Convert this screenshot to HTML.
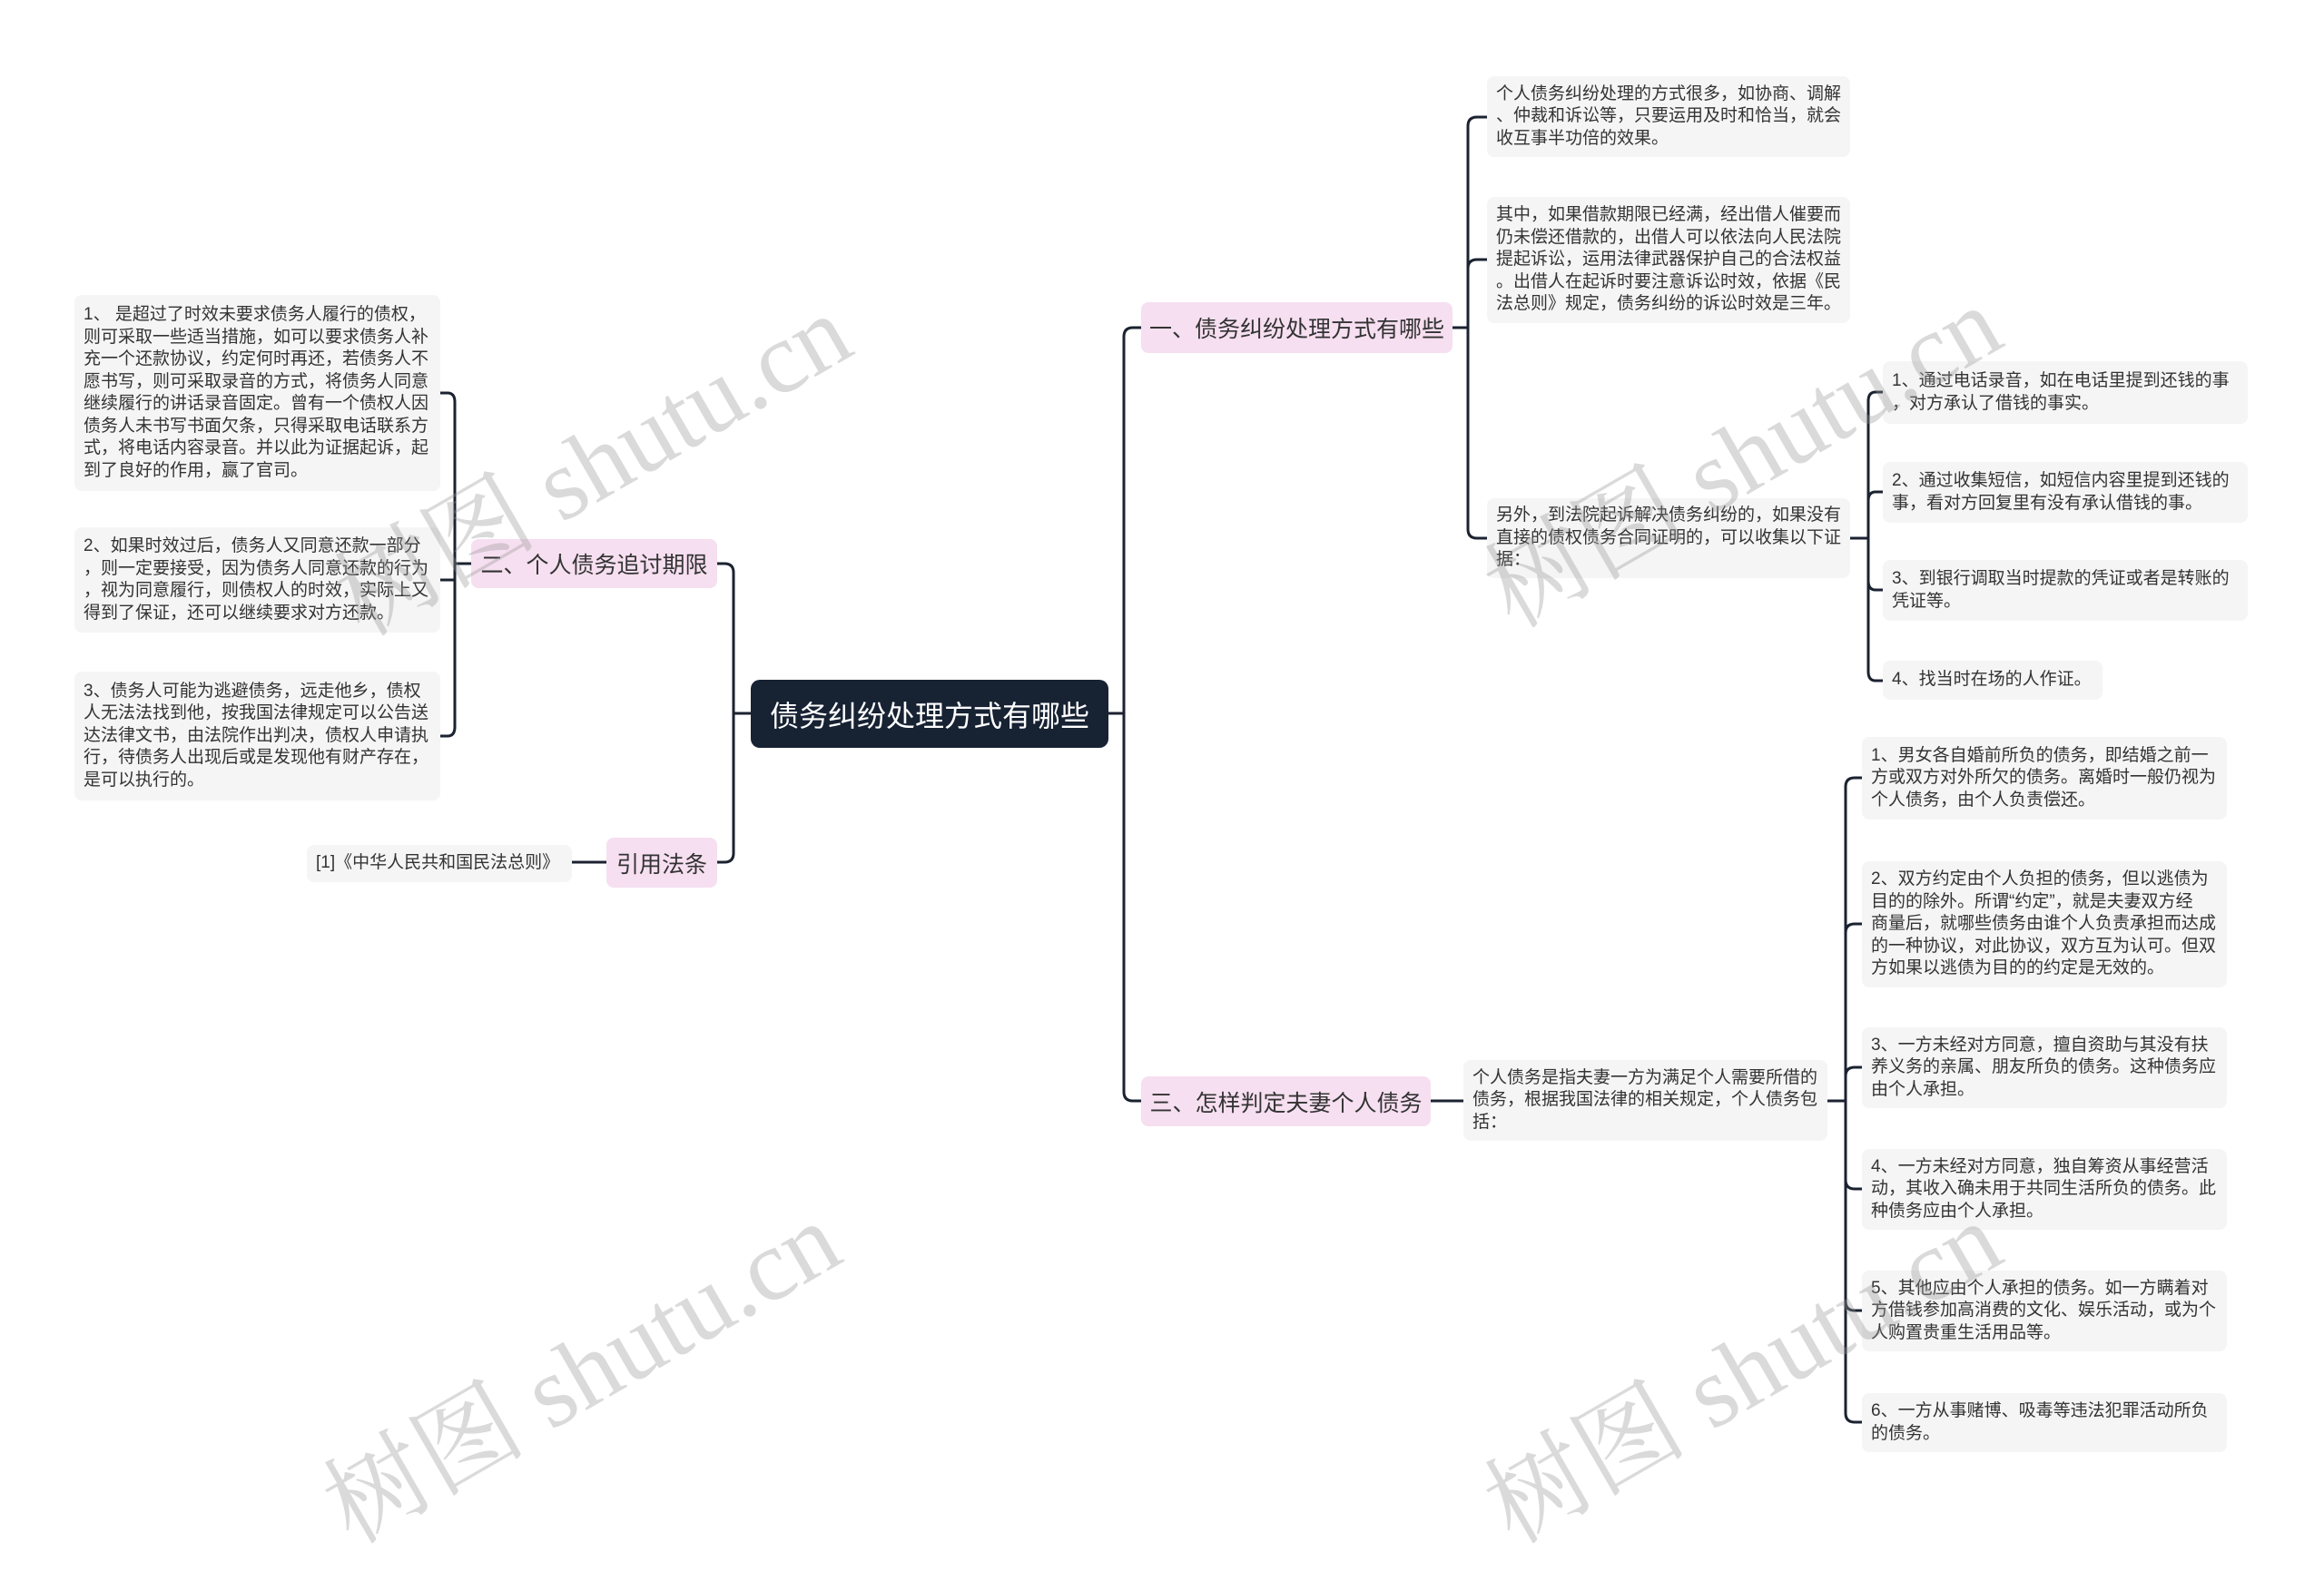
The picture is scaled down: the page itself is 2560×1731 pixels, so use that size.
<!DOCTYPE html>
<html><head><meta charset="utf-8"><style>
html,body{margin:0;padding:0;background:#fff;}
body{width:2560px;height:1684px;position:relative;overflow:hidden;font-family:"Liberation Sans","Noto Sans CJK SC",sans-serif;}
.n{position:absolute;box-sizing:border-box;display:flex;align-items:center;border-radius:8px;}
.leaf{background:#f5f5f5;color:#333;font-size:19px;line-height:24.5px;padding:0 10px;white-space:nowrap;}
.br{background:#f6dff0;color:#333;font-size:25px;justify-content:center;white-space:nowrap;}
.root{background:#172233;color:#fff;font-size:32px;justify-content:center;border-radius:10px;}
.wm{position:absolute;font-family:"Liberation Serif","Noto Serif CJK SC",serif;font-size:112px;color:rgba(150,150,150,0.35);transform:rotate(-30deg);white-space:nowrap;transform-origin:center;}
svg{position:absolute;left:0;top:0;}
</style></head><body>
<svg width="2560" height="1684" fill="none" stroke="#1b2230" stroke-width="3" stroke-linecap="round">
<path d="M1221 786 H1238"/>
<path d="M1238 786 V371 Q1238 361 1248 361 H1257"/>
<path d="M1238 786 V1203 Q1238 1213 1248 1213 H1257"/>
<path d="M827 786 H808"/>
<path d="M808 786 V631 Q808 621 798 621 H790"/>
<path d="M808 786 V940 Q808 950 798 950 H790"/>
<path d="M1600 361 H1617"/>
<path d="M1617 361 V139 Q1617 129 1627 129 H1638"/>
<path d="M1617 361 V296 Q1617 286 1627 286 H1638"/>
<path d="M1617 361 V583 Q1617 593 1627 593 H1638"/>
<path d="M2038 593 H2058"/>
<path d="M2058 593 V442 Q2058 432 2066 432 H2074"/>
<path d="M2058 593 V552 Q2058 542 2066 542 H2074"/>
<path d="M2058 593 V640 Q2058 650 2066 650 H2074"/>
<path d="M2058 593 V740 Q2058 750 2066 750 H2074"/>
<path d="M1576 1213 H1612"/>
<path d="M2013 1213 H2033"/>
<path d="M2033 1213 V867 Q2033 857 2043 857 H2051"/>
<path d="M2033 1213 V1028 Q2033 1018 2043 1018 H2051"/>
<path d="M2033 1213 V1186 Q2033 1176 2043 1176 H2051"/>
<path d="M2033 1213 V1300 Q2033 1310 2043 1310 H2051"/>
<path d="M2033 1213 V1434 Q2033 1444 2043 1444 H2051"/>
<path d="M2033 1213 V1557 Q2033 1567 2043 1567 H2051"/>
<path d="M519 621 H501"/>
<path d="M501 621 V443 Q501 433 493 433 H485"/>
<path d="M501 621 V639 H485"/>
<path d="M501 621 V801 Q501 811 493 811 H485"/>
<path d="M668 950 H630"/>
</svg>

<div class="n root" style="left:827px;top:749px;width:394px;height:75px;">债务纠纷处理方式有哪些</div>

<div class="n br" style="left:1257px;top:333px;width:343px;height:56px;">一、债务纠纷处理方式有哪些</div>
<div class="n br" style="left:519px;top:594px;width:271px;height:54px;">二、个人债务追讨期限</div>
<div class="n br" style="left:668px;top:923px;width:122px;height:55px;">引用法条</div>
<div class="n br" style="left:1257px;top:1186px;width:319px;height:55px;">三、怎样判定夫妻个人债务</div>

<div class="n leaf" style="left:1638px;top:84px;width:400px;height:89px;">个人债务纠纷处理的方式很多，如协商、调解<br>、仲裁和诉讼等，只要运用及时和恰当，就会<br>收互事半功倍的效果。</div>
<div class="n leaf" style="left:1638px;top:217px;width:400px;height:139px;">其中，如果借款期限已经满，经出借人催要而<br>仍未偿还借款的，出借人可以依法向人民法院<br>提起诉讼，运用法律武器保护自己的合法权益<br>。出借人在起诉时要注意诉讼时效，依据《民<br>法总则》规定，债务纠纷的诉讼时效是三年。</div>
<div class="n leaf" style="left:1638px;top:549px;width:400px;height:88px;">另外，到法院起诉解决债务纠纷的，如果没有<br>直接的债权债务合同证明的，可以收集以下证<br>据：</div>

<div class="n leaf" style="left:2074px;top:398px;width:402px;height:69px;">1、通过电话录音，如在电话里提到还钱的事<br>，对方承认了借钱的事实。</div>
<div class="n leaf" style="left:2074px;top:509px;width:402px;height:67px;">2、通过收集短信，如短信内容里提到还钱的<br>事，看对方回复里有没有承认借钱的事。</div>
<div class="n leaf" style="left:2074px;top:617px;width:402px;height:67px;">3、到银行调取当时提款的凭证或者是转账的<br>凭证等。</div>
<div class="n leaf" style="left:2074px;top:728px;width:242px;height:43px;">4、找当时在场的人作证。</div>

<div class="n leaf" style="left:1612px;top:1168px;width:401px;height:89px;">个人债务是指夫妻一方为满足个人需要所借的<br>债务，根据我国法律的相关规定，个人债务包<br>括：</div>

<div class="n leaf" style="left:2051px;top:812px;width:402px;height:91px;">1、男女各自婚前所负的债务，即结婚之前一<br>方或双方对外所欠的债务。离婚时一般仍视为<br>个人债务，由个人负责偿还。</div>
<div class="n leaf" style="left:2051px;top:949px;width:402px;height:139px;">2、双方约定由个人负担的债务，但以逃债为<br>目的的除外。所谓“约定”，就是夫妻双方经<br>商量后，就哪些债务由谁个人负责承担而达成<br>的一种协议，对此协议，双方互为认可。但双<br>方如果以逃债为目的的约定是无效的。</div>
<div class="n leaf" style="left:2051px;top:1132px;width:402px;height:89px;">3、一方未经对方同意，擅自资助与其没有扶<br>养义务的亲属、朋友所负的债务。这种债务应<br>由个人承担。</div>
<div class="n leaf" style="left:2051px;top:1266px;width:402px;height:89px;">4、一方未经对方同意，独自筹资从事经营活<br>动，其收入确未用于共同生活所负的债务。此<br>种债务应由个人承担。</div>
<div class="n leaf" style="left:2051px;top:1400px;width:402px;height:89px;">5、其他应由个人承担的债务。如一方瞒着对<br>方借钱参加高消费的文化、娱乐活动，或为个<br>人购置贵重生活用品等。</div>
<div class="n leaf" style="left:2051px;top:1535px;width:402px;height:65px;">6、一方从事赌博、吸毒等违法犯罪活动所负<br>的债务。</div>

<div class="n leaf" style="left:82px;top:325px;width:403px;height:216px;">1、 是超过了时效未要求债务人履行的债权，<br>则可采取一些适当措施，如可以要求债务人补<br>充一个还款协议，约定何时再还，若债务人不<br>愿书写，则可采取录音的方式，将债务人同意<br>继续履行的讲话录音固定。曾有一个债权人因<br>债务人未书写书面欠条，只得采取电话联系方<br>式，将电话内容录音。并以此为证据起诉，起<br>到了良好的作用，赢了官司。</div>
<div class="n leaf" style="left:82px;top:581px;width:403px;height:116px;">2、如果时效过后，债务人又同意还款一部分<br>，则一定要接受，因为债务人同意还款的行为<br>，视为同意履行，则债权人的时效，实际上又<br>得到了保证，还可以继续要求对方还款。</div>
<div class="n leaf" style="left:82px;top:740px;width:403px;height:142px;">3、债务人可能为逃避债务，远走他乡，债权<br>人无法法找到他，按我国法律规定可以公告送<br>达法律文书，由法院作出判决，债权人申请执<br>行，待债务人出现后或是发现他有财产存在，<br>是可以执行的。</div>
<div class="n leaf" style="left:338px;top:931px;width:292px;height:41px;">[1]《中华人民共和国民法总则》</div>

<div class="wm" style="left:334px;top:424px;">树图 shutu.cn</div>
<div class="wm" style="left:1601px;top:415px;">树图 shutu.cn</div>
<div class="wm" style="left:322px;top:1424px;">树图 shutu.cn</div>
<div class="wm" style="left:1601px;top:1424px;">树图 shutu.cn</div>
</body></html>
